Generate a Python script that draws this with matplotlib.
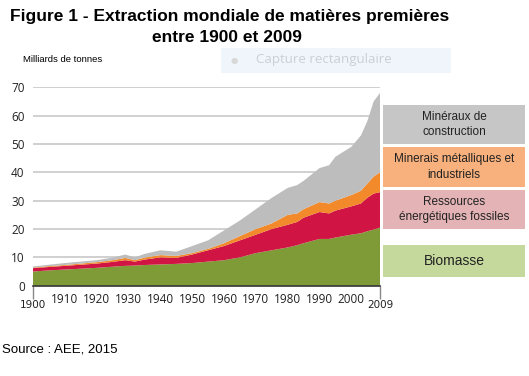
import numpy as np
import matplotlib.pyplot as plt
from matplotlib.patches import Rectangle

# cumulative tops (Gt)
years = [1900, 1905, 1910, 1915, 1920, 1925, 1929, 1932, 1935, 1940, 1945, 1950,
         1955, 1960, 1965, 1970, 1975, 1980, 1983, 1985, 1990, 1993, 1995, 2000,
         2003, 2005, 2007, 2009]
top_bio = [5.0, 5.4, 5.7, 6.0, 6.3, 6.7, 7.0, 7.1, 7.3, 7.5, 7.7, 8.0,
           8.5, 9.0, 10.0, 11.5, 12.5, 13.5, 14.3, 15.0, 16.5, 16.5, 17.0, 18.0,
           18.5, 19.2, 19.8, 20.5]
top_fos = [6.2, 6.6, 7.0, 7.4, 7.8, 8.4, 9.0, 8.5, 9.2, 10.0, 9.8, 11.0,
           12.5, 14.0, 16.0, 18.0, 20.0, 21.5, 22.5, 24.0, 26.0, 25.5, 26.5, 28.0,
           29.0, 31.0, 32.5, 33.0]
top_met = [6.4, 6.9, 7.3, 7.8, 8.3, 9.0, 9.8, 9.0, 9.9, 10.8, 10.5, 11.5,
           13.0, 15.0, 17.5, 20.0, 22.0, 25.0, 25.5, 27.0, 29.5, 29.0, 30.0, 32.0,
           33.5, 36.0, 38.5, 40.0]
top_con = [6.8, 7.4, 8.0, 8.5, 9.0, 9.9, 11.0, 10.0, 11.2, 12.5, 12.0, 14.0,
           16.0, 19.5, 23.0, 27.0, 31.0, 34.5, 35.5, 37.0, 41.5, 42.5, 45.5, 49.0,
           53.0, 58.0, 65.0, 68.0]

bio = np.array(top_bio)
fos = np.array(top_fos) - bio
met = np.array(top_met) - np.array(top_fos)
con = np.array(top_con) - np.array(top_met)

labels = ["Minéraux de\nconstruction", "Minerais métalliques et\nindustriels",
          "Ressources\nénergétiques fossiles", "Biomasse"]
area_cols = ["#7f9b37", "#d01443", "#f2892a", "#bdbdbd"]
box_cols = ["#c6c6c6", "#f8b07c", "#e3b3b5", "#c5d99c"]

W, H = 529, 376
fig = plt.figure(figsize=(W / 100, H / 100), dpi=100)

def fx(px):
    return px / W

def fy(py):
    return 1 - py / H

ax = fig.add_axes([fx(33), fy(285.7), fx(380 - 33), (285.7 - 87.3) / H])
ax.stackplot(years, bio, fos, met, con, colors=area_cols, linewidth=0)
ax.set_xlim(1900, 2009)
ax.set_ylim(0, 70)
for s in ["top", "right", "left"]:
    ax.spines[s].set_visible(False)
ax.spines["bottom"].set_color("#333333")
ax.spines["bottom"].set_linewidth(1.2)
ax.set_yticks(range(0, 71, 10))
ax.yaxis.grid(True, color="#c8c8c8", linewidth=1.2)
ax.set_axisbelow(True)
ax.tick_params(axis="y", length=0, pad=6, labelsize=8.5, labelcolor="#222222")
ax.set_xticks([1900, 2009])
ax.tick_params(axis="x", which="major", length=9.5, width=1, color="#888888",
               pad=1, labelsize=7.5, labelcolor="#222222")
ax.set_xticks(range(1910, 2001, 10), minor=True)
ax.set_xticklabels([str(y) for y in range(1910, 2001, 10)], minor=True)
ax.tick_params(axis="x", which="minor", length=0, pad=5, labelsize=8.5,
               labelcolor="#222222")
for lab in ax.get_xticklabels(minor=True) + ax.get_yticklabels():
    lab.set_family("Open Sans")

# title
fig.text(fx(230), fy(17), "Figure 1 - Extraction mondiale de matières premières",
         ha="center", va="center", fontsize=12.5, fontweight="bold",
         family="Liberation Sans")
fig.text(fx(227), fy(37), "entre 1900 et 2009", ha="center", va="center",
         fontsize=12.5, fontweight="bold", family="Liberation Sans")
fig.text(fx(23), fy(60), "Milliards de tonnes", ha="left", va="center",
         fontsize=6.8, family="Liberation Sans")

# screen-capture overlay
fig.patches.append(Rectangle((fx(221), fy(73)), fx(230), 25 / H,
                             transform=fig.transFigure, facecolor="#f0f5fb",
                             edgecolor="none"))
fig.text(fx(234), fy(60), "●", ha="center", va="center", fontsize=6,
         color="#d8d8d8")
fig.text(fx(256), fy(60), "Capture rectangulaire", ha="left", va="center",
         fontsize=9.5, color="#c9cfd6", family="Open Sans")

# legend boxes
boxes = [(105, 144), (147, 187), (190, 229), (245, 277)]
for (y0, y1), lab, col in zip(boxes, labels, box_cols):
    fig.patches.append(Rectangle((fx(383), fy(y1)), fx(525 - 383), (y1 - y0) / H,
                                 transform=fig.transFigure, facecolor=col,
                                 edgecolor="none"))
    size = 10 if lab == "Biomasse" else 8.5
    fig.text(fx(454), fy((y0 + y1) / 2), lab, ha="center", va="center",
             fontsize=size, linespacing=1.35, color="#222222",
             family="Liberation Sans")

fig.text(fx(2), fy(349), "Source : AEE, 2015", ha="left", va="center",
         fontsize=9.5, family="Liberation Sans")

fig.savefig("out.png", dpi=100, facecolor="white")
